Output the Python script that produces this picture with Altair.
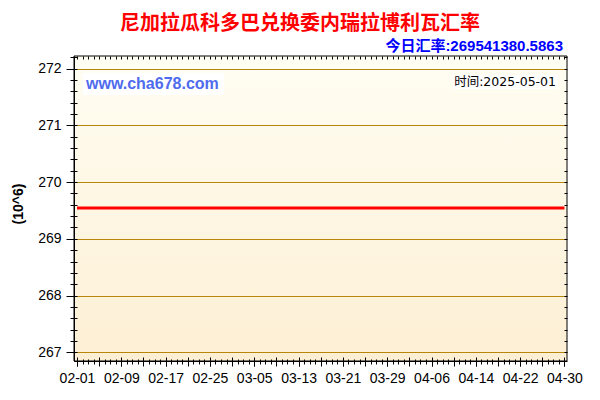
import datetime as dt
import altair as alt
import pandas as pd

# ---------------- data ----------------
dates = ["2025-02-01", "2025-02-09", "2025-02-17", "2025-02-25", "2025-03-05", "2025-03-13",
         "2025-03-21", "2025-03-29", "2025-04-06", "2025-04-14", "2025-04-22", "2025-04-30"]
rates = [269.54138, 269.54138, 269.54138, 269.54138, 269.54138, 269.54138,
         269.54138, 269.54138, 269.54138, 269.54138, 269.54138, 269.54138]
x_labels = ["02-01", "02-09", "02-17", "02-25", "03-05", "03-13",
            "03-21", "03-29", "04-06", "04-14", "04-22", "04-30"]
y_labels = [267, 268, 269, 270, 271, 272]

title_text = "尼加拉瓜科多巴兑换委内瑞拉博利瓦汇率"
rate_text = "今日汇率:269541380.5863"
time_text = "时间:2025-05-01"
site_text = "www.cha678.com"
unit_text = "(10^6)"

df = pd.DataFrame({"date": [d + "T00:00:00" for d in dates], "value": rates})
one = pd.DataFrame({"k": [0]})

W, H = 493, 305

# ---------------- scales / tick positions ----------------
x_scale = alt.Scale(domain=[alt.DateTime(year=2025, month=1, date=31, hours=11),
                            alt.DateTime(year=2025, month=4, date=30, hours=11)])
y_scale = alt.Scale(domain=[266.847, 272.222], zero=False, nice=False)

label_dt = [alt.DateTime(year=2025, month=int(s[:2]), date=int(s[3:])) for s in x_labels]
major_dt = []
d0 = dt.date(2025, 2, 1)
while d0 <= dt.date(2025, 4, 30):
    major_dt.append(alt.DateTime(year=2025, month=d0.month, date=d0.day))
    d0 += dt.timedelta(days=4)
y_minor = [round(267 + 0.2 * i, 1) for i in range(0, 27)]

FONT = "Liberation Sans"

# ---------------- layers ----------------
grad = {"gradient": "linear", "x1": 0, "y1": 0, "x2": 0, "y2": 1,
        "stops": [{"offset": 0, "color": "#FFFEF3"}, {"offset": 1, "color": "#FDEFD4"}]}
bg = alt.Chart(one).mark_rect(fill=grad, strokeWidth=0).encode(
    x=alt.value(0), x2=alt.value(W), y=alt.value(0), y2=alt.value(H))

box1 = alt.Chart(one).mark_rect(fill="#FFFFFF").encode(
    x=alt.value(9), x2=alt.value(150), y=alt.value(17), y2=alt.value(39))
box2 = alt.Chart(one).mark_rect(fill="#FFFFFF").encode(
    x=alt.value(379), x2=alt.value(484), y=alt.value(19), y2=alt.value(33))

main = alt.Chart(df).mark_line(color="#FF0000", strokeWidth=3).encode(
    x=alt.X("date:T", scale=x_scale,
            axis=alt.Axis(orient="bottom", values=label_dt, format="%m-%d", title=None,
                          labelFont=FONT, labelFontSize=14, labelColor="#000000",
                          tickSize=5, tickColor="#000000", labelPadding=5,
                          domainColor="#000000", grid=False, zindex=1, labelFlush=False,
                          labelOverlap=False)),
    y=alt.Y("value:Q", scale=y_scale,
            axis=alt.Axis(orient="left", values=y_labels, title=None, format="d",
                          labelFont=FONT, labelFontSize=14, labelColor="#000000",
                          tickSize=8, tickColor="#000000", labelPadding=5,
                          domainColor="#000000", grid=True, gridColor="#B8860B",
                          gridWidth=1, zindex=1, labelFlush=False, labelOverlap=False)))

ax2 = alt.Chart(df).mark_line(opacity=0).encode(
    x=alt.X("date:T", scale=x_scale,
            axis=alt.Axis(orient="bottom", values=major_dt, labels=False, title=None,
                          domain=False, grid=False, offset=-4, tickSize=9,
                          tickColor="#000000", zindex=1)),
    y=alt.Y("value:Q", scale=y_scale,
            axis=alt.Axis(orient="left", values=y_minor, labels=False, title=None,
                          domain=False, grid=False, offset=-3, tickSize=7,
                          tickColor="#000000", zindex=1)))

ax3 = alt.Chart(df).mark_line(opacity=0).encode(
    x=alt.X("date:T", scale=x_scale,
            axis=alt.Axis(orient="bottom", tickCount={"interval": "day", "step": 1},
                          labels=False, title=None, domain=False, grid=False,
                          offset=-2, tickSize=5, tickColor="#000000", zindex=1)),
    y=alt.Y("value:Q", scale=y_scale,
            axis=alt.Axis(orient="right", values=y_minor, labels=False, title=None,
                          domain=False, grid=False, offset=-3, tickSize=3,
                          tickColor="#000000", zindex=1)))

ax4 = alt.Chart(df).mark_line(opacity=0).encode(
    x=alt.X("date:T", scale=x_scale,
            axis=alt.Axis(orient="top", tickCount={"interval": "day", "step": 1},
                          labels=False, title=None, domain=False, grid=False,
                          offset=-3, tickSize=3, tickColor="#000000", zindex=1)),
    y=alt.Y("value:Q", scale=y_scale, axis=None))

border = alt.Chart(one).mark_rect(filled=False, stroke="#000000", strokeWidth=1).encode(
    x=alt.value(0), x2=alt.value(W), y=alt.value(0), y2=alt.value(H))

title = alt.Chart(one).mark_text(text=title_text, font="Noto Sans CJK SC", fontSize=20,
                                 fontWeight="bold", color="#FF0000", align="center",
                                 baseline="middle").encode(
    x=alt.value(226), y=alt.value(-32))
rate = alt.Chart(one).mark_text(text=rate_text, font="Liberation Sans, Noto Sans CJK SC",
                                fontSize=15, fontWeight="bold", color="#0000FF",
                                align="right", baseline="middle").encode(
    x=alt.value(489), y=alt.value(-10))
site = alt.Chart(one).mark_text(text=site_text, font=FONT, fontSize=16, fontWeight="bold",
                                color="#4F6BED", align="left", baseline="middle").encode(
    x=alt.value(12), y=alt.value(28))
tm = alt.Chart(one).mark_text(text=time_text, font="DejaVu Sans, Noto Sans CJK SC",
                              fontSize=12.5, color="#000000", align="right",
                              baseline="middle").encode(
    x=alt.value(482), y=alt.value(26))
unit = alt.Chart(one).mark_text(text=unit_text, font=FONT, fontSize=14, fontWeight="bold",
                                color="#000000", angle=270, align="center",
                                baseline="middle").encode(
    x=alt.value(-55), y=alt.value(148))

chart = alt.layer(bg, box1, box2, main, ax2, ax3, ax4, border,
                  title, rate, site, tm, unit).resolve_axis(
    x="independent", y="independent").properties(
    width=W, height=H,
    autosize=alt.AutoSizeParams(type="none"),
    padding={"left": 66, "top": 48, "right": 25, "bottom": 39},
    background="#FFFFFF",
).configure_view(stroke=None)

chart.save("out.html", embed_options={"renderer": "svg", "actions": False})
